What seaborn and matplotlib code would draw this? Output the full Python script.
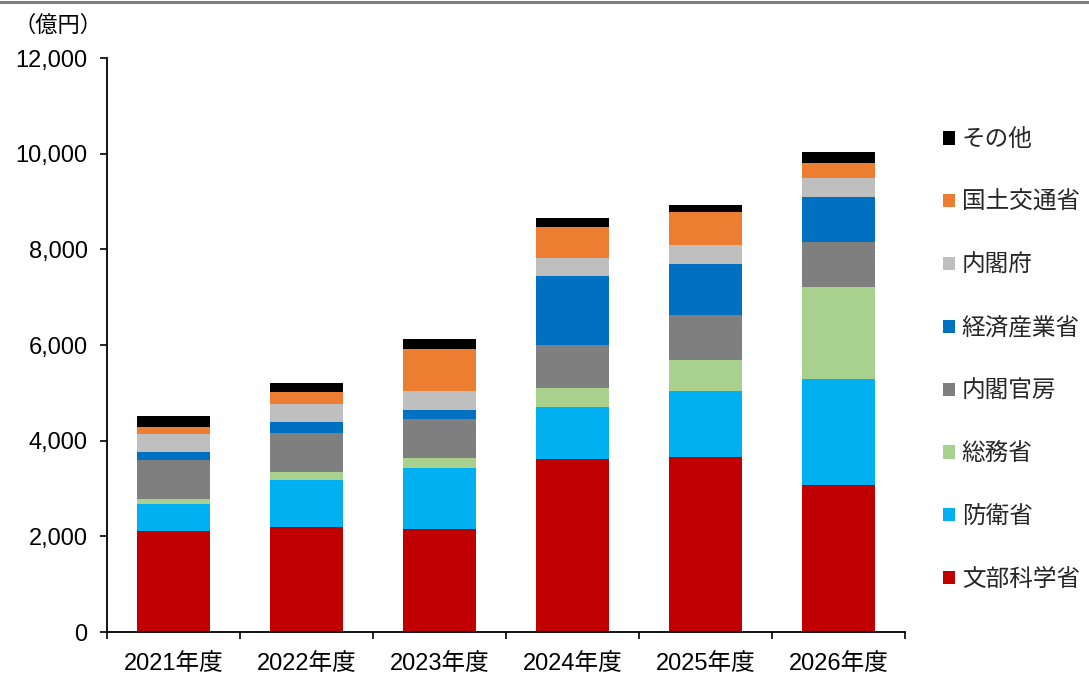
import numpy as np
import pandas as pd
import matplotlib
matplotlib.use("Agg")
import matplotlib.pyplot as plt
from matplotlib.patches import Patch
from matplotlib.lines import Line2D
from matplotlib.ticker import FuncFormatter
import seaborn as sns

# --- data (億円) ---
years = ["2021年度", "2022年度", "2023年度", "2024年度", "2025年度", "2026年度"]

# bottom -> top stacking order
ministries = ["文部科学省", "防衛省", "総務省", "内閣官房",
              "経済産業省", "内閣府", "国土交通省", "その他"]

monbu = [2120, 2205, 2155, 3620, 3660, 3070]
boei = [560, 975, 1275, 1075, 1380, 2215]
somu = [100, 175, 205, 405, 640, 1920]
kanbo = [810, 800, 815, 900, 955, 950]
keisan = [180, 230, 195, 1445, 1060, 940]
naikakufu = [375, 375, 400, 375, 405, 405]
kokudo = [140, 250, 870, 655, 680, 315]
sonota = [225, 205, 210, 175, 140, 215]

colors = ["#C00000", "#00B0F0", "#A9D18E", "#7F7F7F",
          "#0070C0", "#BFBFBF", "#ED7D31", "#000000"]

df = pd.DataFrame({
    "年度": years,
    "文部科学省": monbu,
    "防衛省": boei,
    "総務省": somu,
    "内閣官房": kanbo,
    "経済産業省": keisan,
    "内閣府": naikakufu,
    "国土交通省": kokudo,
    "その他": sonota,
})

sns.set_theme(style="white")
plt.rcParams["font.family"] = ["Liberation Sans", "Noto Sans CJK JP", "DejaVu Sans"]

fig = plt.figure(figsize=(10.89, 6.74), dpi=100)
ax = fig.add_axes([0.0983, 0.0623, 0.7327, 0.8516])

# stacked bars: draw cumulative totals from the top layer down
cum = df[ministries].cumsum(axis=1)
for name, col in reversed(list(zip(ministries, colors))):
    sns.barplot(x=df["年度"], y=cum[name], color=col, width=0.55,
                saturation=1, linewidth=0, order=years, ax=ax)

ax.set_ylim(0, 12000)
ax.set_xlim(-0.5, len(years) - 0.5)
ax.set_yticks(np.arange(0, 12001, 2000))
ax.yaxis.set_major_formatter(FuncFormatter(lambda v, p: f"{int(v):,}"))
ax.set_xlabel("")
ax.set_ylabel("")

for side in ["top", "right"]:
    ax.spines[side].set_visible(False)
for side in ["left", "bottom"]:
    ax.spines[side].set_color("black")
    ax.spines[side].set_linewidth(1.3)

ax.tick_params(axis="y", which="major", direction="out", length=5, width=1.2,
               color="black", labelsize=17, pad=9, left=True)
ax.tick_params(axis="x", which="major", length=0, labelsize=17, pad=15)
ax.set_xticks(np.arange(-0.5, len(years), 1.0), minor=True)
ax.tick_params(axis="x", which="minor", direction="out", length=5, width=1.2,
               color="black", bottom=True)
for lbl in ax.get_xticklabels() + ax.get_yticklabels():
    lbl.set_color("black")

# unit label
fig.text(0.012, 1 - 26 / 674, "（億円）", fontsize=16, ha="left", va="center",
         color="black")

# legend, top entry = top of stack
handles = [Patch(facecolor=c, edgecolor="none") for c in reversed(colors)]
labels = list(reversed(ministries))
fig.legend(handles, labels, loc="center left",
           bbox_to_anchor=(943 / 1089, 1 - 360 / 674),
           frameon=False, fontsize=17, handlelength=0.5, handleheight=0.5,
           handletextpad=0.3, labelspacing=1.72, borderpad=0,
           borderaxespad=0)

# thin gray rule along the top edge
fig.add_artist(Line2D([0, 1], [1 - 1.5 / 674, 1 - 1.5 / 674],
                      transform=fig.transFigure, color="#808080", linewidth=2.2))

fig.savefig("out.png", dpi=100)
